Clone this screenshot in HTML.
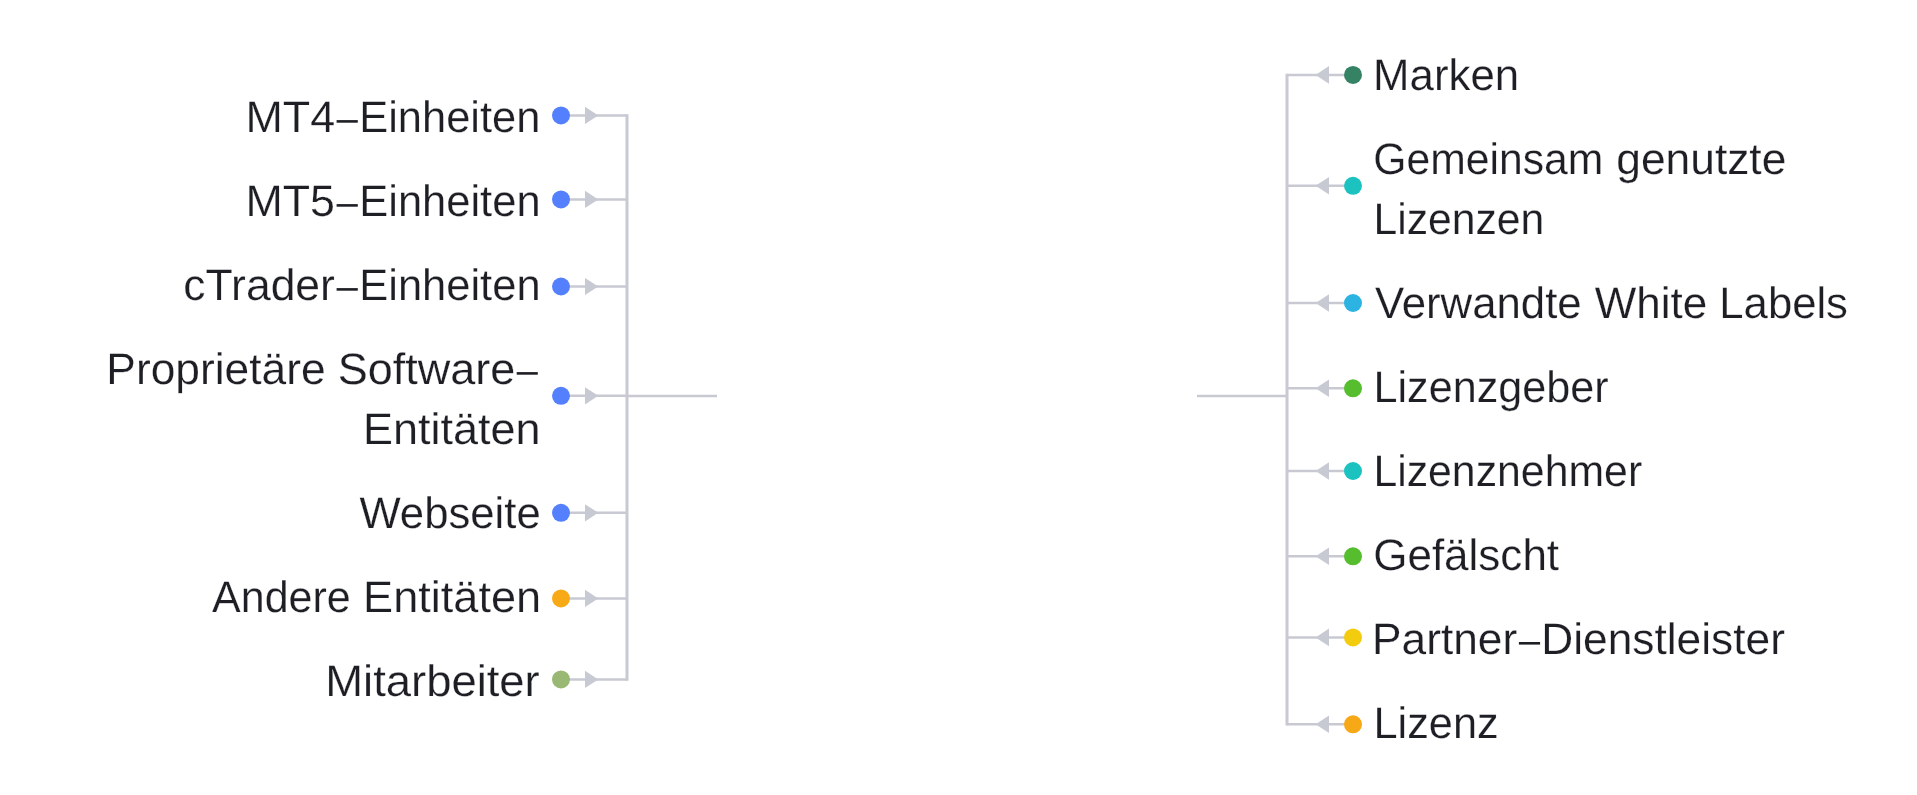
<!DOCTYPE html>
<html><head><meta charset="utf-8"><style>
html,body{margin:0;padding:0;background:#fff;width:1917px;height:795px;overflow:hidden}
svg{display:block;will-change:transform}
text{font-family:"Liberation Sans",sans-serif;font-size:44.0px;fill:#1d1f25;stroke:#fff;stroke-width:0.2px;text-rendering:geometricPrecision}
</style></head><body>
<svg width="1917" height="795" viewBox="0 0 1917 795">
<path d="M627 114.15V680.65" stroke="#c8c9d3" stroke-width="3.0" fill="none"/>
<path d="M627 395.9H717" stroke="#c8c9d3" stroke-width="2.5" fill="none"/>
<path d="M561 115.4H627" stroke="#c8c9d3" stroke-width="2.5" fill="none"/>
<path d="M585 106.8L598.3 115.4L585 124.0Z" fill="#c7cad3"/>
<circle cx="561" cy="115.4" r="9" fill="#5580fd"/>
<path d="M561 199.4H627" stroke="#c8c9d3" stroke-width="2.5" fill="none"/>
<path d="M585 190.8L598.3 199.4L585 208.0Z" fill="#c7cad3"/>
<circle cx="561" cy="199.4" r="9" fill="#5580fd"/>
<path d="M561 286.5H627" stroke="#c8c9d3" stroke-width="2.5" fill="none"/>
<path d="M585 277.9L598.3 286.5L585 295.1Z" fill="#c7cad3"/>
<circle cx="561" cy="286.5" r="9" fill="#5580fd"/>
<path d="M561 395.8H627" stroke="#c8c9d3" stroke-width="2.5" fill="none"/>
<path d="M585 387.2L598.3 395.8L585 404.4Z" fill="#c7cad3"/>
<circle cx="561" cy="395.8" r="9" fill="#5580fd"/>
<path d="M561 512.8H627" stroke="#c8c9d3" stroke-width="2.5" fill="none"/>
<path d="M585 504.2L598.3 512.8L585 521.4Z" fill="#c7cad3"/>
<circle cx="561" cy="512.8" r="9" fill="#5580fd"/>
<path d="M561 598.4H627" stroke="#c8c9d3" stroke-width="2.5" fill="none"/>
<path d="M585 589.8L598.3 598.4L585 607.0Z" fill="#c7cad3"/>
<circle cx="561" cy="598.4" r="9" fill="#f8aa16"/>
<path d="M561 679.4H627" stroke="#c8c9d3" stroke-width="2.5" fill="none"/>
<path d="M585 670.8L598.3 679.4L585 688.0Z" fill="#c7cad3"/>
<circle cx="561" cy="679.4" r="9" fill="#98b873"/>
<path d="M1287 73.65V725.55" stroke="#c8c9d3" stroke-width="3.0" fill="none"/>
<path d="M1197 395.9H1287" stroke="#c8c9d3" stroke-width="2.5" fill="none"/>
<path d="M1287 74.9H1353" stroke="#c8c9d3" stroke-width="2.5" fill="none"/>
<path d="M1329 66.1L1315.6 74.9L1329 83.7Z" fill="#c7cad3"/>
<circle cx="1353" cy="74.9" r="9" fill="#358265"/>
<path d="M1287 185.8H1353" stroke="#c8c9d3" stroke-width="2.5" fill="none"/>
<path d="M1329 177.0L1315.6 185.8L1329 194.6Z" fill="#c7cad3"/>
<circle cx="1353" cy="185.8" r="9" fill="#1bc2c0"/>
<path d="M1287 303H1353" stroke="#c8c9d3" stroke-width="2.5" fill="none"/>
<path d="M1329 294.2L1315.6 303L1329 311.8Z" fill="#c7cad3"/>
<circle cx="1353" cy="303" r="9" fill="#2db3e1"/>
<path d="M1287 388.3H1353" stroke="#c8c9d3" stroke-width="2.5" fill="none"/>
<path d="M1329 379.5L1315.6 388.3L1329 397.1Z" fill="#c7cad3"/>
<circle cx="1353" cy="388.3" r="9" fill="#55bd2e"/>
<path d="M1287 471H1353" stroke="#c8c9d3" stroke-width="2.5" fill="none"/>
<path d="M1329 462.2L1315.6 471L1329 479.8Z" fill="#c7cad3"/>
<circle cx="1353" cy="471" r="9" fill="#1bc2c0"/>
<path d="M1287 556.3H1353" stroke="#c8c9d3" stroke-width="2.5" fill="none"/>
<path d="M1329 547.5L1315.6 556.3L1329 565.1Z" fill="#c7cad3"/>
<circle cx="1353" cy="556.3" r="9" fill="#55bd2e"/>
<path d="M1287 637.4H1353" stroke="#c8c9d3" stroke-width="2.5" fill="none"/>
<path d="M1329 628.6L1315.6 637.4L1329 646.2Z" fill="#c7cad3"/>
<circle cx="1353" cy="637.4" r="9" fill="#f3cc10"/>
<path d="M1287 724.3H1353" stroke="#c8c9d3" stroke-width="2.5" fill="none"/>
<path d="M1329 715.5L1315.6 724.3L1329 733.1Z" fill="#c7cad3"/>
<circle cx="1353" cy="724.3" r="9" fill="#f7a817"/>
<rect x="336.6" y="120.10" width="21.20" height="2.6" fill="#1d1f25"/>
<rect x="336.6" y="204.10" width="21.20" height="2.6" fill="#1d1f25"/>
<rect x="336.6" y="288.10" width="21.20" height="2.6" fill="#1d1f25"/>
<rect x="516.7" y="372.10" width="21.10" height="2.6" fill="#1d1f25"/>
<rect x="1518.9" y="642.00" width="21.20" height="2.6" fill="#1d1f25"/>
<text x="245.48" y="132.10" textLength="89.63" lengthAdjust="spacingAndGlyphs">MT4</text>
<text x="359.22" y="132.10" textLength="181.08" lengthAdjust="spacingAndGlyphs">Einheiten</text>
<text x="245.50" y="216.10" textLength="89.43" lengthAdjust="spacingAndGlyphs">MT5</text>
<text x="359.21" y="216.10" textLength="181.39" lengthAdjust="spacingAndGlyphs">Einheiten</text>
<text x="183.37" y="300.10" textLength="151.54" lengthAdjust="spacingAndGlyphs">cTrader</text>
<text x="359.21" y="300.10" textLength="181.39" lengthAdjust="spacingAndGlyphs">Einheiten</text>
<text x="106.39" y="384.10" textLength="219.26" lengthAdjust="spacingAndGlyphs">Proprietäre</text>
<text x="337.78" y="384.10" textLength="177.47" lengthAdjust="spacingAndGlyphs">Software</text>
<text x="363.02" y="444.15" textLength="177.55" lengthAdjust="spacingAndGlyphs">Entitäten</text>
<text x="359.41" y="528.05" textLength="181.27" lengthAdjust="spacingAndGlyphs">Webseite</text>
<text x="212.08" y="612.00" textLength="138.66" lengthAdjust="spacingAndGlyphs">Andere</text>
<text x="363.13" y="612.00" textLength="177.98" lengthAdjust="spacingAndGlyphs">Entitäten</text>
<text x="325.25" y="696.00" textLength="214.49" lengthAdjust="spacingAndGlyphs">Mitarbeiter</text>
<text x="1373.11" y="90.10" textLength="146.04" lengthAdjust="spacingAndGlyphs">Marken</text>
<text x="1373.26" y="174.10" textLength="230.01" lengthAdjust="spacingAndGlyphs">Gemeinsam</text>
<text x="1616.26" y="174.10" textLength="170.11" lengthAdjust="spacingAndGlyphs">genutzte</text>
<text x="1373.41" y="234.05" textLength="170.98" lengthAdjust="spacingAndGlyphs">Lizenzen</text>
<text x="1374.90" y="318.05" textLength="206.82" lengthAdjust="spacingAndGlyphs">Verwandte</text>
<text x="1594.65" y="318.05" textLength="112.51" lengthAdjust="spacingAndGlyphs">White</text>
<text x="1719.34" y="318.05" textLength="128.63" lengthAdjust="spacingAndGlyphs">Labels</text>
<text x="1373.51" y="402.05" textLength="235.14" lengthAdjust="spacingAndGlyphs">Lizenzgeber</text>
<text x="1373.39" y="486.10" textLength="268.78" lengthAdjust="spacingAndGlyphs">Lizenznehmer</text>
<text x="1373.17" y="570.15" textLength="185.95" lengthAdjust="spacingAndGlyphs">Gefälscht</text>
<text x="1372.08" y="654.00" textLength="145.14" lengthAdjust="spacingAndGlyphs">Partner</text>
<text x="1541.21" y="654.00" textLength="243.69" lengthAdjust="spacingAndGlyphs">Dienstleister</text>
<text x="1373.45" y="738.20" textLength="125.24" lengthAdjust="spacingAndGlyphs">Lizenz</text>
</svg>
</body></html>
